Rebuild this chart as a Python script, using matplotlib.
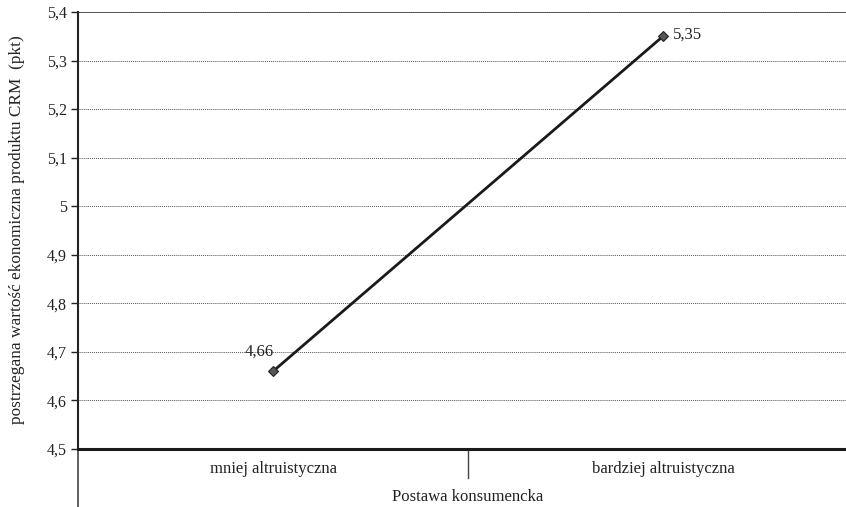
import matplotlib.pyplot as plt
from matplotlib.ticker import FuncFormatter

plt.rcParams['font.family'] = ['Liberation Serif', 'DejaVu Serif']

# Mean perceived economic value by consumer attitude
categories = ['mniej altruistyczna', 'bardziej altruistyczna']
values = [4.66, 5.35]
value_labels = ['4,66', '5,35']
yticks = [4.5, 4.6, 4.7, 4.8, 4.9, 5.0, 5.1, 5.2, 5.3, 5.4]

fig = plt.figure(figsize=(8.46, 5.07), dpi=100)
W, H = 846, 507
# axes spans 78..858 px horizontally (runs past the right edge), 12..449 px vertically
ax = fig.add_axes([78 / W, 1 - 449 / H, 780 / W, 437 / H])

x = list(range(len(categories)))
ax.plot(x, values, color='#1a1a1a', linewidth=2.0, marker='D', markersize=5,
        markerfacecolor='#555555', markeredgecolor='#222222', markeredgewidth=0.8,
        zorder=3, clip_on=False)

ax.set_xlim(-0.5, 1.5)
ax.set_ylim(4.5, 5.4)
ax.set_yticks(yticks)
ax.yaxis.set_major_formatter(FuncFormatter(lambda v, p: f'{v:g}'.replace('.', ',')))
ax.tick_params(axis='y', direction='out', length=5, width=1, labelsize=11.5,
               colors='#222222', pad=3)
ax.set_xticks([])

for yv in yticks[1:]:
    ax.axhline(yv, color='#555555', linewidth=0.7, linestyle=(0, (1, 1)), zorder=1)
ax.axhline(5.4, color='#444444', linewidth=1.2, zorder=1)

for side in ['top', 'right']:
    ax.spines[side].set_visible(False)
ax.spines['left'].set_linewidth(1.5)
ax.spines['left'].set_color('#222222')
ax.spines['bottom'].set_linewidth(2.2)
ax.spines['bottom'].set_color('#1a1a1a')

# data labels
ax.annotate(value_labels[0], (x[0], values[0]), xytext=(-10, 14),
            textcoords='offset points', ha='center', va='center', fontsize=12,
            color='#222222')
ax.annotate(value_labels[1], (x[1], values[1]), xytext=(18, 1.5),
            textcoords='offset points', ha='center', va='center', fontsize=12,
            color='#222222')

# category band below the axis
for i, c in enumerate(categories):
    ax.text(x[i], -0.045, c, transform=ax.get_xaxis_transform(), ha='center',
            va='center', fontsize=12, color='#222222')
ax.plot([0.5, 0.5], [0, -29 / 437], transform=ax.get_xaxis_transform(),
        color='#444444', linewidth=1, clip_on=False)
ax.plot([-0.5, -0.5], [0, -60 / 437], transform=ax.get_xaxis_transform(),
        color='#444444', linewidth=1.2, clip_on=False)

fig.text(468 / W, 1 - 497 / H, 'Postawa konsumencka', ha='center', va='center',
         fontsize=12, color='#222222')
fig.text(17 / W, 1 - 230 / H, 'postrzegana wartość ekonomiczna produktu CRM  (pkt)',
         rotation=90, ha='center', va='center', fontsize=12.4, color='#222222')

fig.savefig('out.png', dpi=100)
